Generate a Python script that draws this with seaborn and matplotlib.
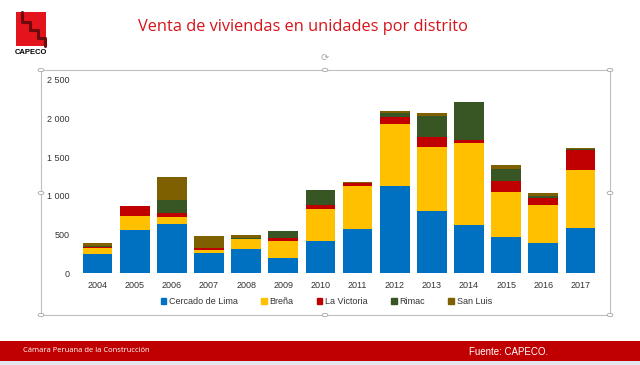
import matplotlib.pyplot as plt
import matplotlib.patches as mpatches
import seaborn as sns
import numpy as np
import pandas as pd

sns.set_theme(style='white')
plt.rcParams['font.family'] = ['Liberation Sans', 'DejaVu Sans']

years = ['2004', '2005', '2006', '2007', '2008', '2009', '2010',
         '2011', '2012', '2013', '2014', '2015', '2016', '2017']
cercado_lima = [245, 562, 635, 259, 311, 190, 410, 575, 1123, 799, 622, 467, 393, 579]
brena = [75, 177, 91, 39, 130, 220, 424, 552, 808, 834, 1067, 587, 488, 752]
la_victoria = [21, 129, 47, 30, 0, 48, 43, 35, 91, 125, 30, 143, 91, 259]
rimac = [10, 0, 177, 0, 10, 86, 194, 0, 47, 281, 489, 151, 26, 10]
san_luis = [39, 0, 294, 147, 41, 5, 5, 13, 31, 30, 5, 52, 34, 24]

series = ['Cercado de Lima', 'Breña', 'La Victoria', 'Rimac', 'San Luis']
colors = ['#0070C0', '#FFC000', '#C00000', '#375623', '#7F6000']

df = pd.DataFrame({'year': years, 'Cercado de Lima': cercado_lima, 'Breña': brena,
                   'La Victoria': la_victoria, 'Rimac': rimac, 'San Luis': san_luis})
cum = df[series].cumsum(axis=1)

fig = plt.figure(figsize=(6.4, 3.65), dpi=100)
fig.patch.set_facecolor('white')
ax = fig.add_axes([0.1234, 0.252, 0.8125, 0.529])

# stacked bars: draw cumulative totals from the top down
for name, color in reversed(list(zip(series, colors))):
    sns.barplot(x=df['year'], y=cum[name], color=color, saturation=1,
                width=0.8, ax=ax, linewidth=0)

ax.set_ylim(0, 2500)
ax.set_yticks([0, 500, 1000, 1500, 2000, 2500])
ax.set_yticklabels(['0', '500', '1 000', '1 500', '2 000', '2 500'])
ax.set_xlabel('')
ax.set_ylabel('')
ax.tick_params(axis='both', labelsize=6.5, colors='#333333', length=0, pad=6)
ax.tick_params(axis='y', pad=6.5)
sns.despine(ax=ax, left=True, bottom=True)

handles = [mpatches.Patch(color=c, label=s) for s, c in zip(series, colors)]
fig.legend(handles=handles, loc='center', bbox_to_anchor=(0.51, 0.173), ncol=5,
           frameon=False, fontsize=6.5, handlelength=0.6, handleheight=0.6,
           handletextpad=0.3, columnspacing=2.6, labelcolor='#333333')

# chart selection frame with handles
frame = mpatches.Rectangle((41 / 640, 1 - 315 / 365), 569 / 640, 245 / 365,
                           transform=fig.transFigure, fill=False,
                           edgecolor='#BFBFBF', linewidth=0.8)
fig.patches.append(frame)
for hx, hy in [(41, 70), (325, 70), (610, 70), (41, 193), (610, 193),
               (41, 315), (325, 315), (610, 315)]:
    fig.patches.append(mpatches.Circle((hx / 640, 1 - hy / 365), 0.0045,
                                       transform=fig.transFigure, facecolor='white',
                                       edgecolor='#A6A6A6', linewidth=0.6))
fig.text(325 / 640, 1 - 58 / 365, '⟳', ha='center', va='center', fontsize=7,
         color='#A6A6A6', family=['DejaVu Sans'])

# title
fig.text(303 / 640, 1 - 27 / 365, 'Venta de viviendas en unidades por distrito',
         ha='center', va='center', fontsize=11.8, color='#D7141A', family=['Open Sans'])

# logo: red square with dark staircase
fig.patches.append(mpatches.Rectangle((16 / 640, 1 - 46 / 365), 30 / 640, 34 / 365,
                                      transform=fig.transFigure, facecolor='#E3141B',
                                      edgecolor='none'))
stair_x = [22, 22, 30, 30, 38, 38, 45, 45]
stair_y = [12, 22, 22, 30, 30, 38, 38, 46]
fig.add_artist(plt.Line2D([v / 640 for v in stair_x], [1 - v / 365 for v in stair_y],
                          transform=fig.transFigure, color='#6E0A0E', linewidth=2.2))
fig.text(31 / 640, 1 - 52 / 365, 'CAPECO', ha='center', va='center', fontsize=5.5,
         fontweight='bold', color='black')

# footer
fig.patches.append(mpatches.Rectangle((0, 1 - 361 / 365), 1, 20 / 365,
                                      transform=fig.transFigure, facecolor='#C00000',
                                      edgecolor='none'))
fig.patches.append(mpatches.Rectangle((0, 0), 1, 4 / 365, transform=fig.transFigure,
                                      facecolor='#E6E6F0', edgecolor='none'))
fig.text(23 / 640, 1 - 351 / 365, 'Cámara Peruana de la Construcción', ha='left',
         va='center', fontsize=5.5, color='white', family=['Open Sans'])
fig.text(469 / 640, 1 - 352 / 365, 'Fuente: CAPECO.', ha='left', va='center',
         fontsize=7, color='white')

plt.savefig('out.png', dpi=100)
